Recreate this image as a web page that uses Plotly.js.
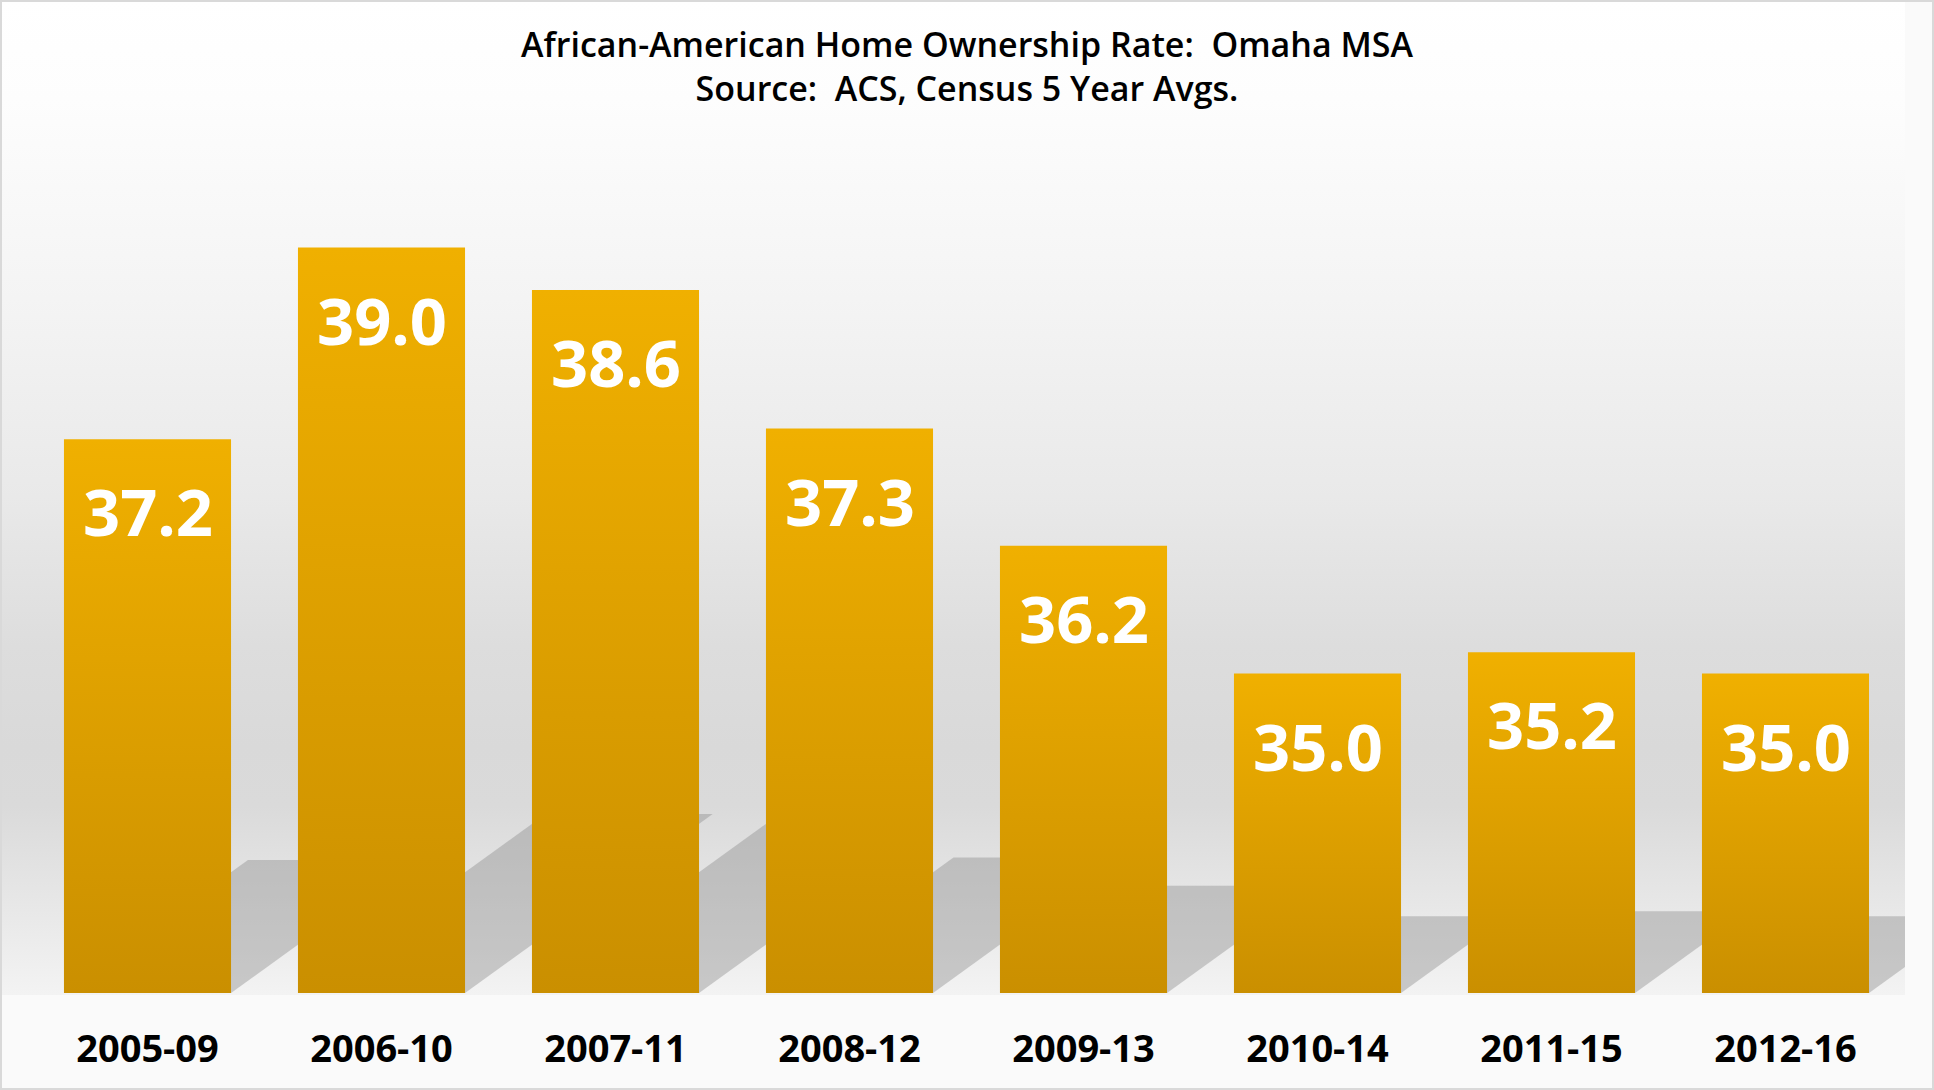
<!DOCTYPE html>
<html>
<head>
<meta charset="utf-8">
<script src="https://cdn.plot.ly/plotly-3.0.1.min.js"></script>
<style>
  html, body { margin: 0; padding: 0; background: #fafafa; }
  #chart {
    width: 1934px; height: 1090px;
    background:
      linear-gradient(to bottom, #ffffff 0%, #fdfdfd 10%, #f4f4f4 30%, #e9e9e9 50%, #dddddd 65%, #d9d9d9 75%, #dadada 81%, #e6e6e6 90%, #f3f3f3 100%) 0 0 / 1905px 995px no-repeat,
      #fafafa;
    box-shadow: inset 0 0 0 2px #d9d9d9;
  }
</style>
</head>
<body>
<div id="chart"></div>
<script>
// ---- data ----
const categories = ['2005-09', '2006-10', '2007-11', '2008-12', '2009-13', '2010-14', '2011-15', '2012-16'];
const values = [37.2, 39.0, 38.6, 37.3, 36.2, 35.0, 35.2, 35.0];
const titleLine1 = 'African-American Home Ownership Rate:\u00a0 Omaha MSA';
const titleLine2 = 'Source:\u00a0 ACS, Census 5 Year Avgs.';

// ---- styling constants ----
const Y_MIN = 32;
const BAR_GAP = 0.286;
const HALF_W = (1 - BAR_GAP) / 2;
const SHADOW_FRAC = 0.24;   // shadow height relative to bar height
const SHADOW_DX = 0.63;     // horizontal shift (categories) per y unit of shadow height

const barTrace = {
  type: 'bar',
  x: categories,
  y: values.map(v => v - Y_MIN),
  base: Y_MIN,
  marker: { color: '#dfa000', line: { width: 0 } },
  hoverinfo: 'x+text',
  hovertext: values.map(v => v.toFixed(1))
};

const annotations = values.map((v, i) => ({
  x: categories[i],
  y: v,
  xref: 'x', yref: 'y',
  text: v.toFixed(1),
  showarrow: false,
  yanchor: 'middle',
  yshift: -72,
  font: { family: 'Open Sans, Noto Sans, sans-serif', size: 65, color: '#ffffff', weight: 'bold' }
}));

// soft floor shadows behind each bar, derived from the values
const shapes = [];
values.forEach((v, i) => {
  const sh = SHADOW_FRAC * (v - Y_MIN);
  const dx = sh * SHADOW_DX;
  const L = i - HALF_W, R = i + HALF_W;
  const y0 = Y_MIN, y1 = Y_MIN + sh;
  shapes.push({
    type: 'path', xref: 'x', yref: 'y', layer: 'below',
    path: `M ${L},${y0} L ${R},${y0} L ${R + dx},${y1} L ${L + dx},${y1} Z`,
    fillcolor: 'rgba(140,140,140,0.42)',
    line: { width: 0 }
  });
});

const layout = {
  width: 1934, height: 1090,
  margin: { l: 2, r: 29, t: 0, b: 97 },
  paper_bgcolor: 'rgba(0,0,0,0)',
  plot_bgcolor: 'rgba(0,0,0,0)',
  bargap: BAR_GAP,
  showlegend: false,
  title: {
    text: titleLine1 + '<br>' + titleLine2,
    x: 0.5, xanchor: 'center',
    y: 1 - 57 / 1090, yanchor: 'middle', yref: 'container',
    font: { family: 'Open Sans, Noto Sans, sans-serif', size: 34, color: '#000000', weight: 600 }
  },
  xaxis: {
    type: 'category',
    range: [-0.6218, 7.5107],
    showgrid: false, zeroline: false, showline: false,
    ticks: '',
    ticklabelstandoff: 30,
    tickfont: { family: 'Open Sans, Noto Sans, sans-serif', size: 38, color: '#000000', weight: 'bold' },
    fixedrange: true
  },
  yaxis: {
    range: [Y_MIN, Y_MIN + 993 / 106.5],
    visible: false,
    showgrid: false, zeroline: false,
    fixedrange: true
  },
  annotations: annotations,
  shapes: shapes
};

Plotly.newPlot('chart', [barTrace], layout, { displayModeBar: false, staticPlot: true }).then(gd => {
  // vertical gradient fill on each bar (bright top, darker bottom)
  const svg = gd.querySelector('svg.main-svg');
  const NS = 'http://www.w3.org/2000/svg';
  let defs = svg.querySelector('defs');
  if (!defs) { defs = document.createElementNS(NS, 'defs'); svg.insertBefore(defs, svg.firstChild); }
  const grad = document.createElementNS(NS, 'linearGradient');
  grad.setAttribute('id', 'barGrad');
  grad.setAttribute('x1', '0'); grad.setAttribute('y1', '0');
  grad.setAttribute('x2', '0'); grad.setAttribute('y2', '1');
  [['0', '#f0b000'], ['1', '#ca8f00']].forEach(([o, c]) => {
    const s = document.createElementNS(NS, 'stop');
    s.setAttribute('offset', o); s.setAttribute('stop-color', c);
    grad.appendChild(s);
  });
  defs.appendChild(grad);
  gd.querySelectorAll('.barlayer .point path').forEach(p => { p.style.fill = 'url(#barGrad)'; });
});
</script>
</body>
</html>
